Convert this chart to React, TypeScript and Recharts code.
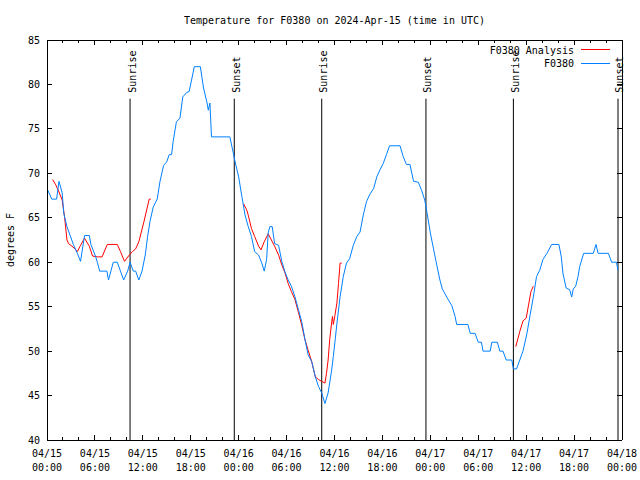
import { LineChart, Line, XAxis, YAxis, ReferenceLine } from 'recharts';

const FONT = '"DejaVu Sans Mono", "Liberation Mono", monospace';

// hours since 2024-04-15 00:00 UTC, temperature in degrees F
const stationObs: [number, number][] = [
  [0.1, 68.1], [0.6, 67.1], [1.2, 67.1], [1.5, 69.1], [1.9, 67.8], [2.1, 65.5], [2.5, 64], [2.9, 63],
  [3.3, 62], [3.8, 61], [4.2, 60.1], [4.7, 63], [5.3, 63], [5.5, 62], [6.1, 60.6], [6.3, 60],
  [6.6, 59], [7.5, 59], [7.7, 58], [8.0, 59], [8.3, 60], [8.8, 60], [9.2, 59], [9.6, 58],
  [10.1, 59], [10.4, 60], [10.8, 59], [11.1, 59], [11.5, 58], [11.9, 59], [12.3, 60.8], [12.6, 62.9],
  [12.9, 64.6], [13.3, 66.2], [13.8, 67.1], [14.15, 69.1], [14.6, 70.9], [15.0, 71.3], [15.3, 72.1], [15.6, 72.1],
  [15.8, 73.6], [16.2, 75.8], [16.65, 76.2], [17.0, 78.6], [17.5, 79.1], [17.8, 79.2], [18.1, 80.5], [18.45, 82],
  [19.2, 82], [19.6, 79.6], [20.0, 78.1], [20.2, 77.1], [20.4, 77.9], [20.6, 74.1], [22.9, 74.1], [23.3, 72.4],
  [23.5, 71.5], [24.0, 69.6], [24.4, 67.4], [24.8, 65.3], [25.2, 64], [25.6, 62.9], [26.0, 61.2], [26.5, 60.8],
  [26.9, 59.9], [27.2, 59], [27.5, 60.3], [27.7, 63.3], [27.9, 64], [28.2, 64], [28.5, 62.1], [29.0, 61.9],
  [29.4, 60.1], [29.8, 58.9], [30.2, 58], [30.6, 57.3], [31.05, 56.1], [31.5, 54.6], [31.9, 53.3], [32.3, 51.3],
  [32.7, 49.6], [33.15, 48.8], [33.6, 47.1], [34.0, 46], [34.4, 45.3], [34.8, 44.1], [35.2, 45.3], [35.65, 47.9],
  [35.85, 49.4], [36.1, 51.4], [36.3, 53.1], [36.7, 56.1], [37.1, 58.4], [37.5, 59.9], [37.9, 60.4], [38.35, 61.9],
  [38.8, 62.9], [39.2, 63.4], [39.6, 65.3], [40.0, 66.8], [40.4, 67.6], [40.9, 68.3], [41.3, 69.6], [41.7, 70.4],
  [42.1, 71.1], [42.5, 72.1], [42.9, 73.1], [44.2, 73.1], [44.6, 71.9], [45.0, 71], [45.45, 71], [45.9, 69.1],
  [46.5, 69], [46.9, 68.1], [47.3, 67], [47.6, 65.5], [48.0, 63.3], [48.4, 61.5], [48.8, 59.7], [49.2, 58],
  [49.5, 57], [50.1, 56], [50.7, 55.1], [51.1, 53.9], [51.3, 53], [52.7, 53], [53.0, 52], [53.6, 52],
  [54.0, 51], [54.4, 51], [54.6, 50], [55.5, 50], [55.7, 51], [56.4, 51], [56.7, 50], [57.1, 50],
  [57.5, 49], [58.2, 49], [58.4, 48], [58.8, 48], [59.2, 49], [59.6, 50], [60.1, 52], [60.5, 54.1],
  [60.9, 56.1], [61.3, 58.4], [61.7, 59.1], [62.1, 60.3], [62.6, 61], [63.2, 62], [64.1, 62], [64.4, 60.6],
  [64.6, 58.8], [65.0, 57.1], [65.45, 56.9], [65.7, 56.1], [65.9, 57], [66.2, 57.3], [66.5, 58.4], [66.7, 59.5],
  [67.2, 61], [68.4, 61], [68.75, 62], [69.0, 61], [70.3, 61], [70.7, 60], [71.3, 60], [71.5, 59.1],
];

const analysisDay1: [number, number][] = [
  [0.7, 69.3], [1.1, 68.7], [1.5, 67.9], [1.9, 67], [2.2, 65.1], [2.5, 62.5], [2.7, 62.1], [3.4, 61.6],
  [3.8, 61.2], [4.2, 61.9], [4.7, 62.7], [5.3, 61.8], [5.7, 60.7], [6.3, 60.6], [6.9, 60.6], [7.55, 62],
  [8.8, 62], [9.2, 61.2], [9.7, 60.1], [10.3, 60.8], [10.7, 61.2], [11.1, 61.5], [11.5, 62.3], [12.15, 64.6],
  [12.8, 67.1], [13.0, 67.1],
];

const analysisDay2: [number, number][] = [
  [24.6, 66.6], [25.0, 65.9], [25.2, 65.3], [25.6, 63.8], [26.0, 62.9], [26.5, 61.8], [26.8, 61.4], [27.2, 62.3],
  [27.7, 63.2], [28.1, 62.5], [28.5, 61.8], [29.0, 60.8], [29.4, 59.7], [29.8, 58.8], [30.2, 57.6], [30.6, 56.7],
  [31.05, 55.8], [31.5, 54.3], [31.9, 52.9], [32.3, 51.3], [32.7, 50.1], [33.15, 48.8], [33.6, 47.1], [34.0, 46.8],
  [34.4, 46.6], [34.8, 46.4], [35.0, 47.5], [35.2, 49], [35.4, 51.3], [35.65, 53.3], [35.75, 53.9], [35.85, 53],
  [36.05, 54], [36.3, 55.4], [36.5, 57.6], [36.7, 59.9], [36.9, 59.9],
];

const analysisDay3: [number, number][] = [
  [58.7, 50.5], [59.2, 52.2], [59.6, 53.4], [60.0, 53.7], [60.3, 55.2], [60.6, 56.7], [60.9, 57.3],
];

const sunEvents: [number, string][] = [
  [10.4, 'Sunrise'], [23.45, 'Sunset'], [34.4, 'Sunrise'],
  [47.45, 'Sunset'], [58.4, 'Sunrise'], [71.5, 'Sunset'],
];

const xTicks = [0, 2, 4, 6, 8, 10, 12, 14, 16, 18, 20, 22, 24, 26, 28, 30, 32, 34, 36,
  38, 40, 42, 44, 46, 48, 50, 52, 54, 56, 58, 60, 62, 64, 66, 68, 70, 72];
const yTicks = [40, 45, 50, 55, 60, 65, 70, 75, 80, 85];

const toRows = (pts: [number, number][]) => pts.map(([h, t]) => ({ h, t }));

const dateLabel = (h: number) => {
  const day = 15 + Math.floor(h / 24);
  const hh = h % 24;
  return [`04/${day}`, `${String(hh).padStart(2, '0')}:00`];
};

const BottomTick = (props: any) => {
  const { x, y, payload } = props;
  const h = payload.value;
  const major = h % 6 === 0;
  const [d, t] = dateLabel(h);
  return (
    <g>
      <line x1={x} x2={x} y1={y} y2={y - (major ? 5 : 3)} stroke="#000" shapeRendering="crispEdges" />
      {major && (
        <>
          <text x={x} y={y + 17} textAnchor="middle" fontFamily={FONT} fontSize={10} fill="#000">{d}</text>
          <text x={x} y={y + 31} textAnchor="middle" fontFamily={FONT} fontSize={10} fill="#000">{t}</text>
        </>
      )}
    </g>
  );
};

const TopTick = (props: any) => {
  const { x, y, payload } = props;
  const major = payload.value % 6 === 0;
  return <line x1={x} x2={x} y1={y} y2={y + (major ? 5 : 3)} stroke="#000" shapeRendering="crispEdges" />;
};

const LeftTick = (props: any) => {
  const { x, y, payload } = props;
  return (
    <g>
      <line x1={x} x2={x + 5} y1={y} y2={y} stroke="#000" shapeRendering="crispEdges" />
      <text x={x - 7} y={y + 3.5} textAnchor="end" fontFamily={FONT} fontSize={10} fill="#000">{payload.value}</text>
    </g>
  );
};

const RightTick = (props: any) => {
  const { x, y } = props;
  return <line x1={x} x2={x - 5} y1={y} y2={y} stroke="#000" shapeRendering="crispEdges" />;
};

const sunLabel = (name: string) => (props: any) => {
  const vb = props.viewBox || {};
  const lx = vb.x + 5.5;
  const ly = vb.y - 6;
  return (
    <text x={lx} y={ly} transform={`rotate(-90, ${lx}, ${ly})`} textAnchor="start"
      fontFamily={FONT} fontSize={10} fill="#000">{name}</text>
  );
};

const axisLine = { stroke: '#000', strokeWidth: 1, shapeRendering: 'crispEdges' };

export default function App() {
  return (
    <div style={{ position: 'absolute', left: 0, top: 0, width: 640, height: 480, background: '#fff' }}>
      <LineChart width={640} height={480} margin={{ top: 0, right: 0, bottom: 0, left: 0 }}>
        <XAxis xAxisId={0} dataKey="h" type="number" domain={[0, 72]} ticks={xTicks} interval={0}
          height={40} tickSize={0} tickMargin={0} tickLine={false} axisLine={axisLine} tick={<BottomTick />}
          allowDataOverflow />
        <XAxis xAxisId="top" orientation="top" dataKey="h" type="number" domain={[0, 72]} ticks={xTicks} interval={0}
          height={40} tickSize={0} tickMargin={0} tickLine={false} axisLine={axisLine} tick={<TopTick />}
          allowDataOverflow />
        <YAxis yAxisId={0} type="number" domain={[40, 85]} ticks={yTicks} interval={0} width={47}
          tickSize={0} tickMargin={0} tickLine={false} axisLine={axisLine} tick={<LeftTick />} allowDataOverflow />
        <YAxis yAxisId="right" orientation="right" type="number" domain={[40, 85]} ticks={yTicks} interval={0}
          width={18} tickSize={0} tickMargin={0} tickLine={false} axisLine={axisLine} tick={<RightTick />}
          allowDataOverflow />
        {sunEvents.map(([h, name]) => (
          <ReferenceLine key={`sun-${h}`} segment={[{ x: h, y: 40 }, { x: h, y: 78.4 }]}
            stroke="#000" strokeWidth={1} label={sunLabel(name)} />
        ))}
        {[analysisDay1, analysisDay2, analysisDay3].map((seg, i) => (
          <Line key={`ana-${i}`} data={toRows(seg)} dataKey="t" type="linear" stroke="#ff0000"
            strokeWidth={1} dot={false} activeDot={false} isAnimationActive={false} />
        ))}
        <Line data={toRows(stationObs)} dataKey="t" type="linear" stroke="#0080ff"
          strokeWidth={1} dot={false} activeDot={false} isAnimationActive={false} />
      </LineChart>
      <svg width={640} height={480} style={{ position: 'absolute', left: 0, top: 0, pointerEvents: 'none' }}>
        <text x={334.5} y={24} textAnchor="middle" fontFamily={FONT} fontSize={10} fill="#000">
          Temperature for F0380 on 2024-Apr-15 (time in UTC)
        </text>
        <text x={14} y={240} transform="rotate(-90, 14, 240)" textAnchor="middle" fontFamily={FONT} fontSize={10} fill="#000">
          degrees F
        </text>
        <text x={574} y={53.5} textAnchor="end" fontFamily={FONT} fontSize={10} fill="#000">F0380 Analysis</text>
        <line x1={581} x2={610} y1={49.5} y2={49.5} stroke="#ff0000" strokeWidth={1} />
        <text x={574} y={67} textAnchor="end" fontFamily={FONT} fontSize={10} fill="#000">F0380</text>
        <line x1={581} x2={610} y1={63.5} y2={63.5} stroke="#0080ff" strokeWidth={1} />
      </svg>
    </div>
  );
}
